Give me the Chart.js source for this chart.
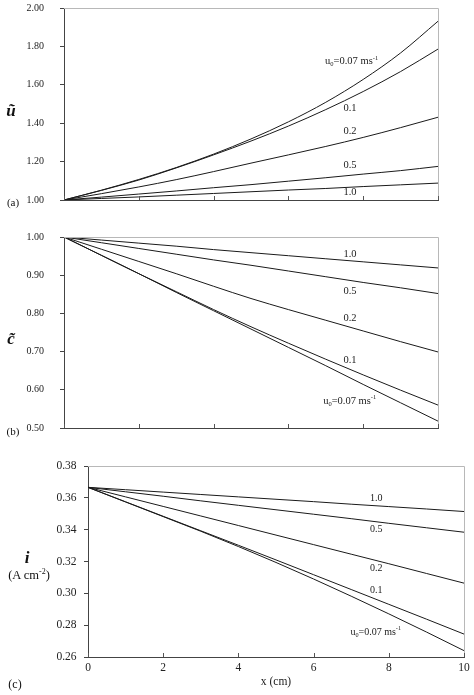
<!DOCTYPE html>
<html>
<head>
<meta charset="utf-8">
<script src="https://cdn.jsdelivr.net/npm/chart.js@4.4.1/dist/chart.umd.min.js"></script>
<style>
  body { margin:0; background:#fff; width:474px; height:695px; position:relative; overflow:hidden; font-family:"Liberation Serif", serif; color:#111; }
  canvas { position:absolute; left:0; }
  .lbl { position:absolute; white-space:nowrap; line-height:1; transform:translate(-50%,-50%); }
  .ax { font-weight:bold; font-style:italic; font-size:17px; }
  .pn { font-size:11px; }
</style>
</head>
<body>
<canvas id="chartA" width="474" height="215" style="top:0"></canvas>
<canvas id="chartB" width="474" height="222" style="top:222px"></canvas>
<canvas id="chartC" width="474" height="251" style="top:444px"></canvas>

<div class="lbl ax" style="left:11px;top:110px">ũ</div>
<div class="lbl pn" style="left:13px;top:202px">(a)</div>
<div class="lbl ax" style="left:11px;top:338px">c̃</div>
<div class="lbl pn" style="left:13px;top:431px">(b)</div>
<div class="lbl ax" style="left:27px;top:557px">i</div>
<div class="lbl pn" style="left:29px;top:575px;font-size:12.5px">(A cm<sup style="font-size:8px">-2</sup>)</div>
<div class="lbl pn" style="left:15px;top:684px;font-size:12px">(c)</div>

<script>
// distance along the electrode (cm)
const xCm = [0,1,2,3,4,5,6,7,8,9,10]
const xTicks = [0,2,4,6,8,10]

// panel (a): dimensionless velocity
const u007 = [1.000,1.051,1.107,1.169,1.239,1.318,1.407,1.509,1.628,1.766,1.931]
const u010 = [1.000,1.050,1.104,1.167,1.235,1.307,1.385,1.471,1.565,1.669,1.786]
const u020 = [1.000,1.033,1.068,1.106,1.148,1.192,1.235,1.279,1.326,1.377,1.431]
const u050 = [1.000,1.015,1.031,1.047,1.064,1.080,1.098,1.116,1.135,1.153,1.175]
const u100 = [1.000,1.008,1.016,1.025,1.034,1.043,1.052,1.060,1.070,1.079,1.088]
const uTicks = [1.0,1.2,1.4,1.6,1.8,2.0]

// panel (b): dimensionless concentration
const c007 = [1.000,0.952,0.904,0.855,0.807,0.759,0.711,0.663,0.614,0.566,0.518]
const c010 = [1.000,0.952,0.904,0.857,0.810,0.765,0.722,0.680,0.639,0.599,0.560]
const c020 = [1.000,0.968,0.936,0.904,0.871,0.839,0.810,0.782,0.754,0.726,0.699]
const c050 = [1.000,0.985,0.970,0.955,0.940,0.926,0.911,0.896,0.881,0.867,0.852]
const c100 = [1.000,0.992,0.984,0.976,0.967,0.959,0.951,0.943,0.935,0.927,0.919]
const cTicks = [0.5,0.6,0.7,0.8,0.9,1.0]

// panel (c): current density (A cm-2)
const i007 = [0.3666,0.3574,0.3482,0.3390,0.3294,0.3194,0.3090,0.2982,0.2871,0.2757,0.2640]
const i010 = [0.3666,0.3575,0.3484,0.3393,0.3302,0.3210,0.3117,0.3024,0.2931,0.2838,0.2744]
const i020 = [0.3666,0.3606,0.3546,0.3486,0.3426,0.3366,0.3306,0.3246,0.3186,0.3125,0.3064]
const i050 = [0.3666,0.3638,0.3610,0.3581,0.3553,0.3525,0.3497,0.3469,0.3440,0.3412,0.3384]
const i100 = [0.3666,0.3651,0.3636,0.3621,0.3606,0.3591,0.3576,0.3560,0.3545,0.3530,0.3514]
const iTicks = [0.26,0.28,0.30,0.32,0.34,0.36,0.38]

const u0Label = [{t:'u'},{t:'0',s:'sub'},{t:'=0.07 ms'},{t:'-1',s:'sup'}]

function drawRich(ctx, parts, x, y, size) {
    let cx = x
    parts.forEach(p => {
        let fs = p.s ? size*0.62 : size
        ctx.font = fs + 'px "Liberation Serif"'
        let dy = p.s === 'sub' ? size*0.28 : p.s === 'sup' ? -size*0.35 : 0
        ctx.fillText(p.t, cx, y + dy)
        cx += ctx.measureText(p.t).width
    })
}

const frame = {
    id: 'frame',
    afterDatasetsDraw(chart, args, opts) {
        const ctx = chart.ctx, a = chart.chartArea, xs = chart.scales.x, ys = chart.scales.y
        ctx.save()
        ctx.lineWidth = 1
        ctx.strokeStyle = '#b8b8b8'
        ctx.beginPath()
        ctx.moveTo(a.left, a.top + 0.5)
        ctx.lineTo(a.right + 0.5, a.top + 0.5)
        ctx.lineTo(a.right + 0.5, a.bottom)
        ctx.stroke()
        ctx.strokeStyle = '#555'
        ctx.beginPath()
        xTicks.forEach(v => {
            let px = Math.round(xs.getPixelForValue(v)) + 0.5
            ctx.moveTo(px, a.bottom)
            ctx.lineTo(px, a.bottom - 4)
        })
        ctx.stroke()
        ctx.fillStyle = '#222'
        ctx.textBaseline = 'middle'
        ctx.textAlign = 'left'
        opts.labels.forEach(l => {
            drawRich(ctx, l.parts, xs.getPixelForValue(l.x), ys.getPixelForValue(l.y), opts.size)
        })
        ctx.restore()
    }
}

function makeChart(id, series, ticks, opt) {
    const ctx = document.getElementById(id).getContext('2d')
    const font = { family: 'Liberation Serif', size: opt.fs }
    return new Chart(ctx, {
        type: 'line',
        data: {
            datasets: series.map(s => ({
                data: xCm.map((x, k) => ({x, y: s[k]})),
                borderColor: '#1a1a1a',
                borderWidth: 1,
                pointRadius: 0,
                fill: false,
                cubicInterpolationMode: 'monotone'
            }))
        },
        options: {
            responsive: false,
            animation: false,
            devicePixelRatio: 1,
            layout: { padding: opt.padding },
            plugins: {
                legend: { display: false },
                tooltip: { enabled: false },
                frame: { labels: opt.labels, size: opt.labelSize }
            },
            scales: {
                x: {
                    type: 'linear', min: 0, max: 10,
                    afterBuildTicks: s => { s.ticks = xTicks.map(v => ({value: v})) },
                    afterFit: s => { s.height = opt.xHeight; s.paddingLeft = 0; s.paddingRight = 0 },
                    grid: { drawOnChartArea: false, drawTicks: false },
                    border: { color: '#444', width: 1 },
                    ticks: { display: opt.xLabels, color: '#222', padding: 4, font },
                    title: { display: opt.xLabels, text: 'x (cm)', color: '#222', padding: { top: 2, bottom: 6 }, font }
                },
                y: {
                    min: ticks[0], max: ticks[ticks.length - 1],
                    afterBuildTicks: s => { s.ticks = ticks.map(v => ({value: v})) },
                    // keep the label padding from pushing the plot area down
                    afterFit: s => { s.width = opt.yWidth; s.paddingTop = 0; s.paddingBottom = 0 },
                    grid: { drawOnChartArea: false, drawTicks: true, tickLength: 4, color: '#444' },
                    border: { color: '#444', width: 1 },
                    ticks: { color: '#222', padding: opt.yPad, callback: v => v.toFixed(2), font }
                }
            }
        },
        plugins: [frame]
    })
}

makeChart('chartA', [u007, u010, u020, u050, u100], uTicks, {
    padding: { top: 8, right: 36, bottom: 0, left: 0 },
    xHeight: 15, yWidth: 64, yPad: 16, xLabels: false, fs: 10, labelSize: 10.5,
    labels: [
        { x: 6.98, y: 1.721, parts: u0Label },
        { x: 7.47, y: 1.478, parts: [{t:'0.1'}] },
        { x: 7.47, y: 1.360, parts: [{t:'0.2'}] },
        { x: 7.47, y: 1.179, parts: [{t:'0.5'}] },
        { x: 7.47, y: 1.038, parts: [{t:'1.0'}] }
    ]
})

makeChart('chartB', [c007, c010, c020, c050, c100], cTicks, {
    padding: { top: 15, right: 36, bottom: 0, left: 0 },
    xHeight: 16, yWidth: 64, yPad: 16, xLabels: false, fs: 10, labelSize: 10.5,
    labels: [
        { x: 7.47, y: 0.955, parts: [{t:'1.0'}] },
        { x: 7.47, y: 0.859, parts: [{t:'0.5'}] },
        { x: 7.47, y: 0.787, parts: [{t:'0.2'}] },
        { x: 7.47, y: 0.678, parts: [{t:'0.1'}] },
        { x: 6.93, y: 0.570, parts: u0Label }
    ]
})

makeChart('chartC', [i007, i010, i020, i050, i100], iTicks, {
    padding: { top: 22, right: 10, bottom: 0, left: 0 },
    xHeight: 38, yWidth: 88, yPad: 7.5, xLabels: true, fs: 11.5, labelSize: 10,
    labels: [
        { x: 7.5, y: 0.3595, parts: [{t:'1.0'}] },
        { x: 7.5, y: 0.3399, parts: [{t:'0.5'}] },
        { x: 7.5, y: 0.3158, parts: [{t:'0.2'}] },
        { x: 7.5, y: 0.3016, parts: [{t:'0.1'}] },
        { x: 6.98, y: 0.2755, parts: u0Label }
    ]
})
</script>
</body>
</html>
